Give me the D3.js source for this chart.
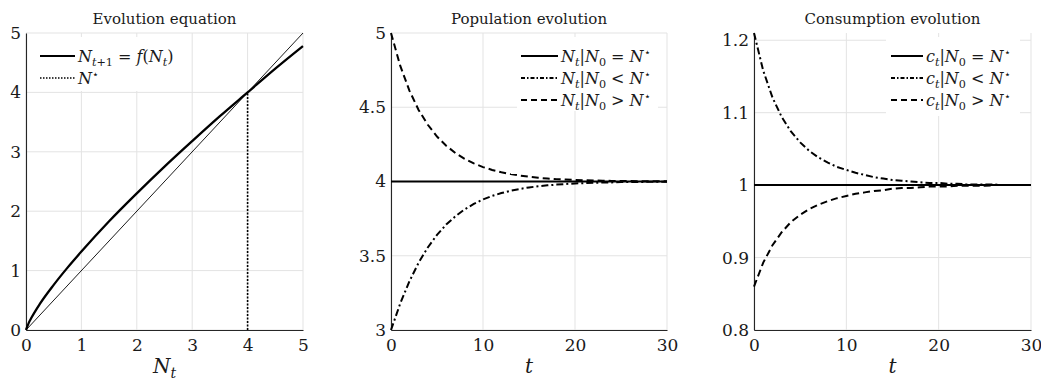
<html>
<head>
<title>evolution panels</title>
<script src="https://cdnjs.cloudflare.com/ajax/libs/d3/7.8.5/d3.min.js"></script>
<style>
  body { margin: 0; background: #fff; }
  text { font-family: "DejaVu Serif", "Noto Serif", "Liberation Serif", serif; fill: #1a1a1a; }
</style>
</head>
<body>
<div id="vis_container"></div>
<script>

// ---- data ----
// panel 1: evolution equation N_{t+1} = f(N_t)
var evoN = [0, 0.05, 0.1, 0.25, 0.5, 0.75, 1, 1.5, 2, 2.5, 3, 3.5, 4, 4.5, 5];
var evoF = [0, 0.12, 0.21, 0.44, 0.76, 1.05, 1.32, 1.83, 2.30, 2.75, 3.18, 3.60, 4.00, 4.40, 4.78];
var diagN = [0, 5];
var nStar = 4;

// panels 2 and 3: t = 0..30
var tVals = d3.range(0, 31);
var popSteady = [4,4,4,4,4,4,4,4,4,4,4,4,4,4,4,4,4,4,4,4,4,4,4,4,4,4,4,4,4,4,4];
var popLow  = [3.000,3.178,3.328,3.453,3.556,3.641,3.710,3.766,3.812,3.849,3.879,3.903,3.922,3.938,3.950,3.960,
               3.968,3.974,3.979,3.983,3.987,3.989,3.991,3.993,3.994,3.996,3.996,3.997,3.998,3.998,3.999];
var popHigh = [5.000,4.780,4.612,4.482,4.382,4.303,4.241,4.192,4.153,4.122,4.097,4.078,4.062,4.050,4.040,4.032,
               4.025,4.020,4.016,4.013,4.010,4.008,4.007,4.005,4.004,4.003,4.003,4.002,4.002,4.001,4.001];
var consSteady = [1,1,1,1,1,1,1,1,1,1,1,1,1,1,1,1,1,1,1,1,1,1,1,1,1,1,1,1,1,1,1];
var consLow  = [1.210,1.158,1.121,1.094,1.074,1.059,1.047,1.038,1.031,1.025,1.021,1.017,1.014,1.011,1.009,1.007,
                1.006,1.005,1.004,1.003,1.003,1.002,1.002,1.001,1.001,1.001,1.001,1.000,1.000,1.000,1.000];
var consHigh = [0.860,0.893,0.917,0.935,0.949,0.959,0.967,0.973,0.978,0.982,0.985,0.988,0.990,0.992,0.993,0.995,
                0.996,0.996,0.997,0.998,0.998,0.998,0.999,0.999,0.999,0.999,1.000,1.000,1.000,1.000,1.000];

var ticks1x = [0, 1, 2, 3, 4, 5], ticks1y = [0, 1, 2, 3, 4, 5];
var ticksT = [0, 10, 20, 30];
var ticks2y = [3, 3.5, 4, 4.5, 5];
var ticks3y = [0.8, 0.9, 1, 1.1, 1.2];

var width = 1041, height = 383;
var svg = d3.select("#vis_container").append("svg")
    .attr("width", width).attr("height", height);

var serif = '"DejaVu Serif", "Noto Serif", "Liberation Serif", serif';
var gridColor = "#e3e3e3", axisColor = "#262626";
var dashed = "7,4", dashdot = "7,3,2,3", dotted = "2,1.5";

// writes a small bit of math: parts are [text, kind]
// kind: i italic, r roman, s italic subscript, sr roman subscript, p superscript
function mathText(sel, parts, size) {
  var shift = 0;
  parts.forEach(function(p) {
    var kind = p[1];
    var small = (kind == "s" || kind == "sr" || kind == "p");
    var want = (kind == "s" || kind == "sr") ? 0.25 * size : (kind == "p" ? -0.38 * size : 0);
    sel.append("tspan").text(p[0])
        .attr("dy", want - shift)
        .style("font-size", small ? (size * 0.7) + "px" : size + "px")
        .style("font-style", (kind == "i" || kind == "s") ? "italic" : "normal");
    shift = want;
  });
  return sel;
}

function panel(opt) {
  var x = d3.scaleLinear().domain(opt.xd).range([opt.left, opt.right]);
  var y = d3.scaleLinear().domain(opt.yd).range([330, 33]);
  var g = svg.append("g");

  // grid
  g.selectAll(".gx").data(opt.xt).enter().append("line")
      .attr("x1", function(d) { return x(d); }).attr("x2", function(d) { return x(d); })
      .attr("y1", y.range()[0]).attr("y2", y.range()[1])
      .style("stroke", gridColor).style("stroke-width", 1);
  g.selectAll(".gy").data(opt.yt).enter().append("line")
      .attr("y1", function(d) { return y(d); }).attr("y2", function(d) { return y(d); })
      .attr("x1", opt.left).attr("x2", opt.right)
      .style("stroke", gridColor).style("stroke-width", 1);

  // axes
  var ax = g.append("g").attr("transform", "translate(0,330)")
      .call(d3.axisBottom(x).tickValues(opt.xt).tickSize(0).tickPadding(9).tickFormat(d3.format("")));
  var ay = g.append("g").attr("transform", "translate(" + opt.left + ",0)")
      .call(d3.axisLeft(y).tickValues(opt.yt).tickSize(0).tickPadding(5).tickFormat(d3.format("")));
  [ax, ay].forEach(function(a) {
    a.attr("font-family", null);
    a.select(".domain").style("stroke", axisColor).style("stroke-width", 1.1);
    a.selectAll("text").style("font-size", "17px").style("font-family", serif).style("fill", "#1a1a1a");
  });

  // title
  g.append("text").attr("x", (opt.left + opt.right) / 2).attr("y", 24)
      .attr("text-anchor", "middle").style("font-size", "15px").text(opt.title);

  // x label
  mathText(g.append("text").attr("x", (opt.left + opt.right) / 2).attr("y", 373)
      .attr("text-anchor", "middle"), opt.xlabel, 20);

  return {g: g, x: x, y: y};
}

function legend(p, box, items) {
  p.g.append("rect").attr("x", box[0]).attr("y", box[1]).attr("width", box[2]).attr("height", box[3])
      .style("fill", "#fff");
  items.forEach(function(it, i) {
    var yy = box[1] + 19 + i * 22;
    p.g.append("line").attr("x1", it.x0).attr("x2", it.x1).attr("y1", yy).attr("y2", yy)
        .style("stroke", "#000").style("stroke-width", it.w).style("stroke-dasharray", it.dash);
    mathText(p.g.append("text").attr("x", it.x1 + 3).attr("y", yy + 6), it.label, 16);
  });
}

function drawLine(p, xs, ys, dash, w, curve) {
  var pts = xs.map(function(d, i) { return [d, ys[i]]; });
  p.g.append("path").datum(pts)
      .attr("d", d3.line().x(function(d) { return p.x(d[0]); }).y(function(d) { return p.y(d[1]); })
          .curve(curve || d3.curveLinear))
      .style("fill", "none").style("stroke", "#000").style("stroke-width", w)
      .style("stroke-dasharray", dash);
}

// ---- panel 1 ----
var p1 = panel({left: 26, right: 303, xd: [0, 5], yd: [0, 5], xt: ticks1x, yt: ticks1y,
  title: "Evolution equation", xlabel: [["N", "i"], ["t", "s"]]});
legend(p1, [31, 37, 160, 54], [
  {x0: 40, x1: 75, w: 2.2, dash: null,
   label: [["N", "i"], ["t", "s"], ["+1", "sr"], [" = ", "r"], ["f", "i"], ["(", "r"], ["N", "i"], ["t", "s"], [")", "r"]]},
  {x0: 40, x1: 75, w: 1.3, dash: "1.5,1.5", label: [["N", "i"], ["\u22C6", "p"]]}
]);
drawLine(p1, diagN, diagN, null, 0.9);
drawLine(p1, [nStar, nStar], [0, nStar], dotted, 1.6);
drawLine(p1, evoN, evoF, null, 2.3, d3.curveMonotoneX);

// ---- panel 2 ----
var p2 = panel({left: 391, right: 667, xd: [0, 30], yd: [3, 5], xt: ticksT, yt: ticks2y,
  title: "Population evolution", xlabel: [["t", "i"]]});
legend(p2, [517, 37, 141, 74], [
  {x0: 521, x1: 558, w: 2, dash: null,
   label: [["N", "i"], ["t", "s"], ["|", "r"], ["N", "i"], ["0", "sr"], [" = ", "r"], ["N", "i"], ["\u22C6", "p"]]},
  {x0: 521, x1: 558, w: 2, dash: "4,2,1.5,2",
   label: [["N", "i"], ["t", "s"], ["|", "r"], ["N", "i"], ["0", "sr"], [" < ", "r"], ["N", "i"], ["\u22C6", "p"]]},
  {x0: 521, x1: 558, w: 2, dash: "6,4",
   label: [["N", "i"], ["t", "s"], ["|", "r"], ["N", "i"], ["0", "sr"], [" > ", "r"], ["N", "i"], ["\u22C6", "p"]]}
]);
drawLine(p2, tVals, popSteady, null, 2);
drawLine(p2, tVals, popLow, dashdot, 2);
drawLine(p2, tVals, popHigh, dashed, 2);

// ---- panel 3 ----
var p3 = panel({left: 754, right: 1031, xd: [0, 30], yd: [0.8, 1.21], xt: ticksT, yt: ticks3y,
  title: "Consumption evolution", xlabel: [["t", "i"]]});
legend(p3, [886, 37, 134, 79], [
  {x0: 891, x1: 923, w: 2, dash: null,
   label: [["c", "i"], ["t", "s"], ["|", "r"], ["N", "i"], ["0", "sr"], [" = ", "r"], ["N", "i"], ["\u22C6", "p"]]},
  {x0: 891, x1: 923, w: 2, dash: "4,2,1.5,2",
   label: [["c", "i"], ["t", "s"], ["|", "r"], ["N", "i"], ["0", "sr"], [" < ", "r"], ["N", "i"], ["\u22C6", "p"]]},
  {x0: 891, x1: 923, w: 2, dash: "6,4",
   label: [["c", "i"], ["t", "s"], ["|", "r"], ["N", "i"], ["0", "sr"], [" > ", "r"], ["N", "i"], ["\u22C6", "p"]]}
]);
drawLine(p3, tVals, consSteady, null, 2);
drawLine(p3, tVals, consLow, dashdot, 2);
drawLine(p3, tVals, consHigh, dashed, 2);

</script>
</body>
</html>
